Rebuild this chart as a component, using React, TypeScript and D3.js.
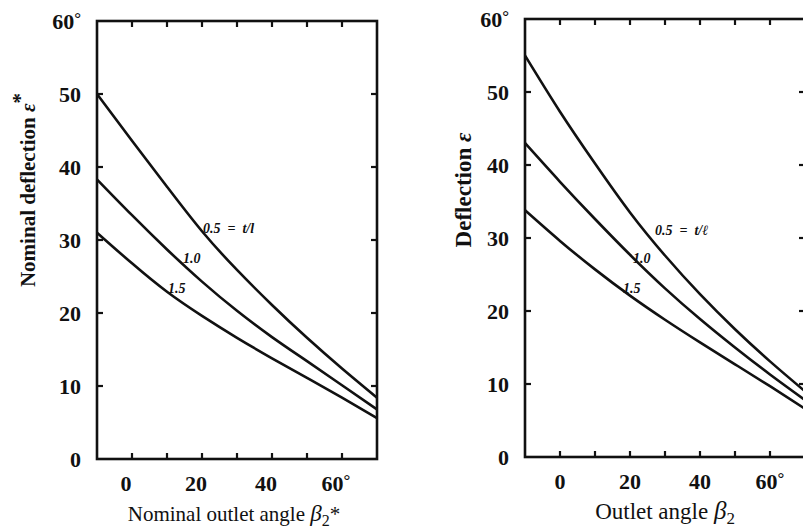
import React from "react";
import * as d3 from "d3";

const angles = [-10, 0, 10, 20, 30, 40, 50, 60, 70];
const nominal05 = [50, 43.6, 37.3, 31.2, 25.9, 21.1, 16.6, 12.4, 8.4];
const nominal10 = [38.3, 33.4, 28.7, 24.3, 20.3, 16.7, 13.4, 10.1, 6.8];
const nominal15 = [31, 26.8, 22.9, 19.6, 16.6, 13.8, 11.1, 8.4, 5.6];
const actual05 = [55, 47.3, 40.2, 33.5, 27.6, 22.3, 17.5, 13.1, 9];
const actual10 = [43, 37.7, 32.6, 27.7, 23.1, 18.9, 15, 11.3, 7.8];
const actual15 = [33.8, 29.6, 25.7, 22.1, 18.8, 15.7, 12.7, 9.7, 6.6];

const xTicks = [0, 10, 20, 30, 40, 50, 60];
const xLabels = ["0", "20", "40", "60"];
const yTicks = [10, 20, 30, 40, 50];
const yLabels = ["0", "10", "20", "30", "40", "50", "60"];
const seriesNames = ["0.5", "1.0", "1.5"];

const FONT = "'Liberation Serif', 'DejaVu Serif', serif";

type PanelProps = {
  x0: number; x1: number; y0: number; y1: number;
  series: number[][];
  xTitle: React.ReactNode;
  yTitle: React.ReactNode;
  yTitleX: number; yTitleY: number; yTitleSize: number;
  xTitleX: number; xTitleSize: number;
  xLabelDx: number;
  labelPos: { x: number; y: number; text: string }[];
};

function Panel(p: PanelProps) {
  const x = d3.scaleLinear().domain([-10, 70]).range([p.x0, p.x1]);
  const y = d3.scaleLinear().domain([0, 60]).range([p.y1, p.y0]);
  const line = d3
    .line<number>()
    .x((_, i) => x(angles[i]))
    .y((d) => y(d))
    .curve(d3.curveNatural);
  const tl = 6;
  return (
    <g>
      {p.series.map((s, i) => (
        <path key={i} d={line(s) || ""} fill="none" stroke="#111" strokeWidth={2.6} />
      ))}
      <rect x={p.x0} y={p.y0} width={p.x1 - p.x0} height={p.y1 - p.y0} fill="none" stroke="#111" strokeWidth={2.6} />
      {xTicks.map((t) => (
        <g key={"xt" + t}>
          <line x1={x(t)} x2={x(t)} y1={p.y0} y2={p.y0 + tl} stroke="#111" strokeWidth={2.2} />
          <line x1={x(t)} x2={x(t)} y1={p.y1} y2={p.y1 - tl} stroke="#111" strokeWidth={2.2} />
        </g>
      ))}
      {yTicks.map((t) => (
        <g key={"yt" + t}>
          <line x1={p.x0} x2={p.x0 + tl} y1={y(t)} y2={y(t)} stroke="#111" strokeWidth={2.2} />
          <line x1={p.x1} x2={p.x1 - tl} y1={y(t)} y2={y(t)} stroke="#111" strokeWidth={2.2} />
        </g>
      ))}
      {yLabels.map((l) => (
        <text key={"yl" + l} x={p.x0 - 16} y={y(+l)} dy="0.35em" textAnchor="end" fontFamily={FONT} fontWeight="bold" fontSize={22} fill="#111">
          {l}
          {l === "60" ? <tspan dy="-0.3em" fontSize={17}>°</tspan> : null}
        </text>
      ))}
      {xLabels.map((l) => (
        <text key={"xl" + l} x={x(+l) + p.xLabelDx} y={p.y1 + 32} textAnchor="middle" fontFamily={FONT} fontWeight="bold" fontSize={22} fill="#111">
          {l}
          {l === "60" ? <tspan dy="-0.3em" fontSize={17}>°</tspan> : null}
        </text>
      ))}
      <text x={p.xTitleX} y={p.y1 + 62} textAnchor="middle" fontFamily={FONT} fontSize={p.xTitleSize} fill="#111">
        {p.xTitle}
      </text>
      <text transform={`translate(${p.yTitleX},${p.yTitleY}) rotate(-90)`} textAnchor="middle" fontFamily={FONT} fontWeight="bold" fontSize={p.yTitleSize} fill="#111">
        {p.yTitle}
      </text>
      {p.labelPos.map((lp, i) => (
        <text key={"cl" + i} x={lp.x} y={lp.y} fontFamily={FONT} fontStyle="italic" fontWeight="bold" fontSize={14} fill="#111" style={{ whiteSpace: "pre" }}>
          {lp.text}
        </text>
      ))}
    </g>
  );
}

export default function App() {
  return (
    <svg width={803} height={531} style={{ position: "absolute", left: 0, top: 0, background: "#fff" }}>
      <rect width={803} height={531} fill="#fff" />
      <Panel
        x0={97} x1={377} y0={21} y1={459}
        series={[nominal05, nominal10, nominal15]}
        xTitle={<>Nominal outlet angle <tspan fontStyle="italic" fontSize={23}>β</tspan><tspan dy="5" fontSize={16}>2</tspan><tspan dy="-5">*</tspan></>}
        yTitle={<>Nominal deflection <tspan fontStyle="italic">ε</tspan><tspan dy="-8">*</tspan></>}
        yTitleX={35} yTitleY={190} yTitleSize={21}
        xTitleX={234} xTitleSize={21}
        xLabelDx={-6}
        labelPos={[
          { x: 203, y: 233, text: seriesNames[0] + "  =  t/l" },
          { x: 183, y: 263, text: seriesNames[1] },
          { x: 168, y: 293, text: seriesNames[2] },
        ]}
      />
      <Panel
        x0={525} x1={805} y0={19} y1={457}
        series={[actual05, actual10, actual15]}
        xTitle={<>Outlet angle <tspan fontStyle="italic" fontSize={25}>β</tspan><tspan dy="5" fontSize={17}>2</tspan></>}
        yTitle={<>Deflection <tspan fontStyle="italic">ε</tspan></>}
        yTitleX={471} yTitleY={190} yTitleSize={23}
        xTitleX={665} xTitleSize={23}
        xLabelDx={0}
        labelPos={[
          { x: 655, y: 235, text: seriesNames[0] + "  =  t/ℓ" },
          { x: 633, y: 263, text: seriesNames[1] },
          { x: 623, y: 293, text: seriesNames[2] },
        ]}
      />
    </svg>
  );
}
